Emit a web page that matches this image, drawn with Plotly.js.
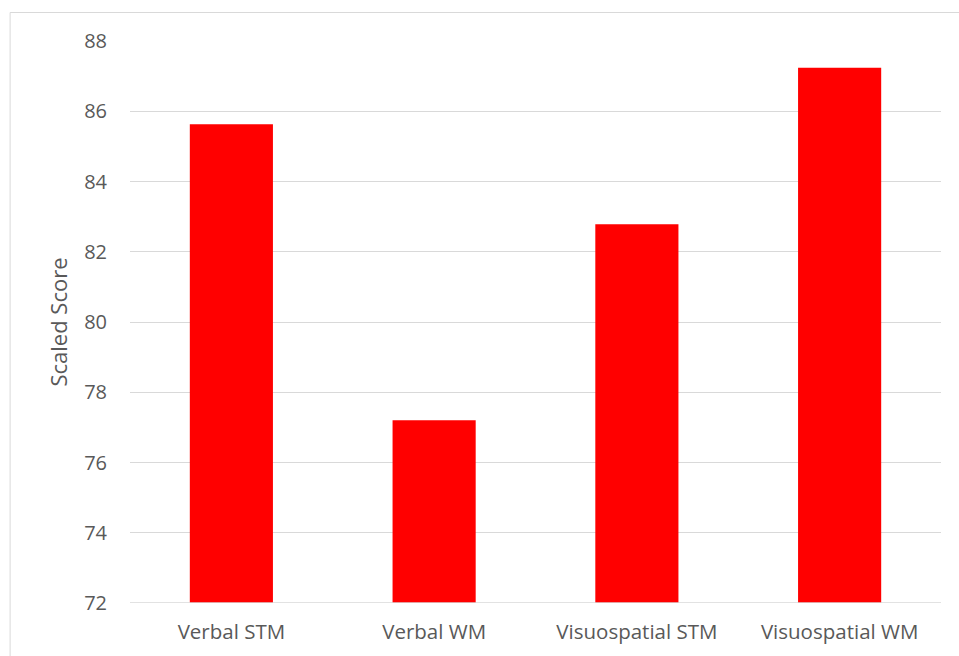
<!DOCTYPE html>
<html>
<head>
<meta charset="utf-8">
<script src="https://cdn.plot.ly/plotly-3.0.1.min.js"></script>
<style>html,body{margin:0;padding:0;background:#fff;}#chart{width:959px;height:656px;}</style>
</head>
<body>
<div id="chart"></div>
<script>
const categories = ["Verbal STM", "Verbal WM", "Visuospatial STM", "Visuospatial WM"];
const scores = [85.63, 77.20, 82.78, 87.24];
const yTicks = [72, 74, 76, 78, 80, 82, 84, 86, 88];

const L = 130.3, R = 18.3, T = 41, B = 53;
const W = 959, H = 656;
const pw = W - L - R, ph = H - T - B;
function px2x(p){ return (p - L) / pw; }
function py2y(p){ return (H - B - p) / ph; }

const trace = {
  type: "bar",
  x: categories,
  y: scores,
  marker: {color: "#ff0000"},
  hoverinfo: "x+y"
};

const layout = {
  width: W, height: H,
  margin: {l: L, r: R, t: T, b: B, pad: 0},
  paper_bgcolor: "#ffffff",
  plot_bgcolor: "#ffffff",
  bargap: 0.59,
  showlegend: false,
  font: {family: "'Open Sans', sans-serif", color: "#595959", size: 16},
  xaxis: {
    showgrid: false, zeroline: false, showline: false,
    ticks: "", tickfont: {size: 20.5, color: "#595959"},
    ticklen: 0, ticklabelstandoff: 14, automargin: false
  },
  yaxis: {
    range: [72, 88],
    tickvals: yTicks,
    ticktext: yTicks.map(String),
    showgrid: true, gridcolor: "#d9d9d9", gridwidth: 1,
    zeroline: false, showline: false, ticks: "",
    ticklabelstandoff: 22,
    tickfont: {size: 20, color: "#595959"},
    title: {text: "Scaled Score", font: {size: 22, color: "#595959"}, standoff: 10},
    automargin: false
  },
  shapes: [
    {type: "rect", xref: "paper", yref: "paper",
     x0: px2x(10.5), x1: px2x(990), y0: py2y(700), y1: py2y(12.5),
     line: {color: "#d9d9d9", width: 1}, fillcolor: "rgba(0,0,0,0)", layer: "below"},
    {type: "line", xref: "paper", yref: "y",
     x0: 0, x1: 1, y0: 72, y1: 72,
     line: {color: "#d9d9d9", width: 1.5}, layer: "above"}
  ]
};

Plotly.newPlot("chart", [trace], layout, {displayModeBar: false, staticPlot: true});
</script>
</body>
</html>
